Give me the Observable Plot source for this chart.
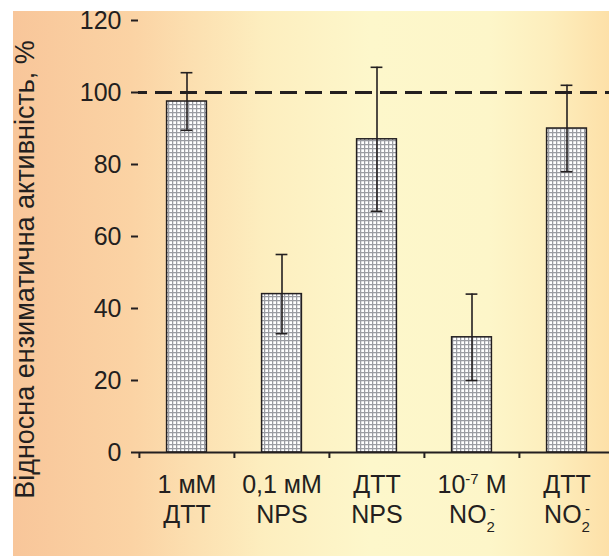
<!DOCTYPE html>
<html><head><meta charset="utf-8">
<script src="https://cdn.jsdelivr.net/npm/d3@7"></script>
<script src="https://cdn.jsdelivr.net/npm/@observablehq/plot@0.6"></script>
<style>
html,body{margin:0;padding:0;background:#fff;}
#wrap{position:relative;width:609px;height:556px;overflow:hidden;}
#bg{position:absolute;left:13px;top:11px;right:0;bottom:0;
background:linear-gradient(to right,#f8c69a 0%,#fbd3a4 20%,#fdeebf 42%,#fdf7cb 60%,#fdf6c9 80%,#fdeebd 90%,#fde0a8 100%);}
#chart{position:absolute;left:0;top:0;}
</style></head><body>
<div id="wrap"><div id="bg"></div><div id="chart"></div></div>
<script>
const categories = ["1 мМ ДТТ", "0,1 мМ NPS", "ДТТ NPS", "10-7 М NO2-", "ДТТ NO2-"];
const labelLine1 = ["1 мМ", "0,1 мМ", "ДТТ", "10^{-7} М", "ДТТ"];
const labelLine2 = ["ДТТ", "NPS", "NPS", "NO_{2}^{-}", "NO_{2}^{-}"];
const activity = [97.5, 44, 87, 32, 90];
const errors = [8, 11, 20, 12, 12];
const yTicks = [0, 20, 40, 60, 80, 100, 120];
const referenceLevel = [100];
const yTitle = "Відносна ензиматична активність, %";

const data = categories.map((c, i) => ({cat: c, v: activity[i], e: errors[i], l1: labelLine1[i], l2: labelLine2[i]}));

const W = 609, H = 556, mL = 138, mR = 0, mT = 20, mB = 104;
const xRange = [mL, 614];
const step = (xRange[1] - xRange[0]) / categories.length;
const tickLen = 7;
const ink = "#231f20";
const font = "'Liberation Sans', Arial, sans-serif";

const svg = Plot.plot({
  width: W, height: H,
  marginLeft: mL, marginRight: mR, marginTop: mT, marginBottom: mB,
  style: {background: "transparent", fontFamily: font, color: ink, overflow: "visible"},
  x: {domain: categories, range: xRange, padding: 0},
  y: {domain: [0, 120]},
  marks: [
    Plot.barY(data, {x: "cat", y: "v", fill: "url(#gridfill)", stroke: ink, strokeWidth: 1.5,
      insetLeft: (step - 40) / 2, insetRight: (step - 40) / 2}),
    Plot.ruleY(referenceLevel, {stroke: ink, strokeWidth: 3, strokeDasharray: "17,8", strokeDashoffset: 8}),
    Plot.ruleX(data, {x: "cat", y1: d => d.v - d.e, y2: d => d.v + d.e, stroke: ink, strokeWidth: 1.6}),
    Plot.tickY(data, {x: "cat", y: d => d.v + d.e, stroke: ink, strokeWidth: 1.6, inset: (step - 12) / 2}),
    Plot.tickY(data, {x: "cat", y: d => d.v - d.e, stroke: ink, strokeWidth: 1.6, inset: (step - 12) / 2}),
    Plot.ruleY([0], {stroke: ink, strokeWidth: 2}),
    Plot.tickY(yTicks, {y: d => d, stroke: ink, strokeWidth: 2, insetRight: (W - mL - mR) - tickLen, dx: -tickLen}),
    Plot.axisY({ticks: yTicks, tickSize: 0, tickPadding: tickLen + 10, fontSize: 25, line: true, label: null,
      stroke: ink, strokeWidth: 2, strokeOpacity: 1, fill: ink}),
    Plot.axisX({tickSize: 6, dx: -step / 2, tickFormat: () => "", label: null, stroke: ink, strokeWidth: 2, strokeOpacity: 1}),
    Plot.text(data, {x: "cat", text: "l1", frameAnchor: "bottom", dy: 40, lineAnchor: "bottom", fontSize: 25, fill: ink}),
    Plot.text(data, {x: "cat", text: "l2", frameAnchor: "bottom", dy: 70, lineAnchor: "bottom", fontSize: 25, fill: ink}),
    Plot.text([yTitle], {frameAnchor: "left", rotate: -90, dx: -105, dy: 33, fontSize: 27, lineAnchor: "bottom", textAnchor: "middle", fill: ink})
  ]
});

const root = d3.select(svg);

const defs = root.insert("defs", ":first-child");
const pat = defs.append("pattern").attr("id", "gridfill").attr("patternUnits", "userSpaceOnUse")
  .attr("width", 4).attr("height", 4);
pat.append("rect").attr("width", 4).attr("height", 4).attr("fill", "#ffffff");
pat.append("rect").attr("width", 4).attr("height", 1.25).attr("fill", "#9a9ca2");
pat.append("rect").attr("width", 1.25).attr("height", 4).attr("fill", "#9a9ca2");

function richText(node) {
  const s = node.textContent;
  if (!/[\^_]\{/.test(s)) return;
  const parts = []; const re = /(\^|_)\{([^}]*)\}/g; let last = 0, m;
  while ((m = re.exec(s))) {
    if (m.index > last) parts.push({t: s.slice(last, m.index)});
    parts.push({t: m[2], k: m[1]});
    last = re.lastIndex;
  }
  if (last < s.length) parts.push({t: s.slice(last)});
  while (node.firstChild) node.removeChild(node.firstChild);
  let shift = 0;
  parts.forEach((p, i) => {
    const ts = d3.select(node).append("tspan").text(p.t);
    const target = p.k === "^" ? -9 : p.k === "_" ? 9 : 0;
    if (target - shift !== 0) ts.attr("dy", target - shift);
    shift = target;
    if (p.k) ts.attr("font-size", 15);
    if (p.k === "^" && i > 0 && parts[i - 1].k === "_") ts.attr("dx", -5);
  });
}
root.selectAll("text").each(function() { richText(this); });

document.getElementById("chart").appendChild(svg);
</script>
</body></html>
